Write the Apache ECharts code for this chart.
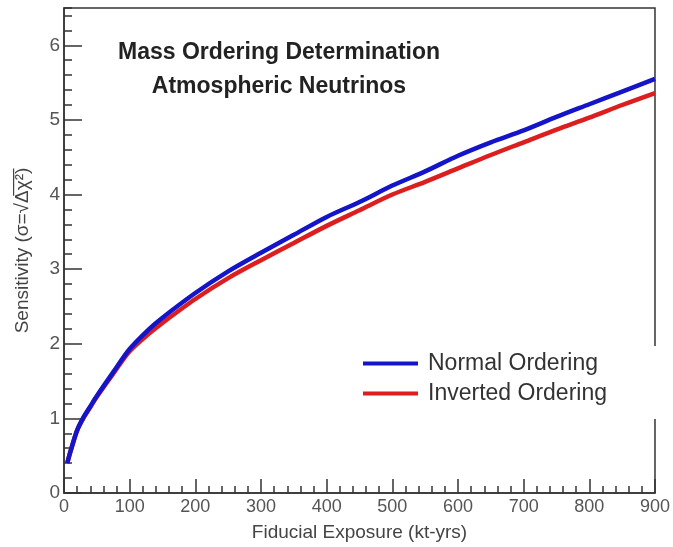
<!DOCTYPE html>
<html>
<head>
<meta charset="utf-8">
<script src="https://cdn.jsdelivr.net/npm/echarts@6/dist/echarts.min.js"></script>
<style>
  html, body { margin: 0; padding: 0; background: #fff; }
  #chart { width: 673px; height: 547px; }
</style>
</head>
<body>
<div id="chart"></div>
<script>
// Fiducial exposure (kt-yrs) at which the sensitivity is sampled
const exposure = [5, 10, 20, 30, 40, 50, 75, 100, 130, 150, 200, 250, 300, 350, 400, 450, 500, 550, 600, 650, 700, 750, 800, 850, 900];
// Sensitivity sigma = sqrt(delta chi^2)
const normalOrdering   = [0.40, 0.56, 0.84, 1.02, 1.16, 1.30, 1.62, 1.93, 2.20, 2.35, 2.68, 2.97, 3.22, 3.46, 3.70, 3.90, 4.12, 4.31, 4.52, 4.70, 4.86, 5.04, 5.21, 5.38, 5.55];
const invertedOrdering = [0.40, 0.56, 0.84, 1.01, 1.15, 1.29, 1.60, 1.90, 2.14, 2.28, 2.60, 2.88, 3.12, 3.35, 3.58, 3.79, 4.00, 4.17, 4.35, 4.53, 4.70, 4.87, 5.03, 5.20, 5.36];
const seriesNames = ['Normal Ordering', 'Inverted Ordering'];
const titleLines = ['Mass Ordering Determination', 'Atmospheric Neutrinos'];

const pairs = (ys) => exposure.map((x, i) => [x, ys[i]]);

const FONT = 'Liberation Sans, Arial, sans-serif';
const INK = '#333';

const chart = echarts.init(document.getElementById('chart'), null, { renderer: 'canvas' });

chart.setOption({
  backgroundColor: '#fff',
  animation: false,
  title: {
    text: titleLines.join('\n'),
    left: 274,
    top: 31,
    textAlign: 'center',
    textStyle: {
      fontFamily: FONT,
      fontWeight: 'bold',
      fontSize: 23,
      lineHeight: 34,
      color: '#222'
    }
  },
  grid: {
    left: 64, right: 17, top: 8, bottom: 54,
    show: true,
    borderColor: INK,
    borderWidth: 1.5,
    backgroundColor: 'transparent'
  },
  legend: {
    data: seriesNames,
    orient: 'vertical',
    left: 348,
    top: 346,
    padding: [6, 70, 14, 15],
    itemWidth: 55,
    itemHeight: 4,
    itemGap: 7,
    icon: 'rect',
    backgroundColor: '#fff',
    textStyle: {
      fontFamily: FONT,
      fontSize: 23,
      lineHeight: 22,
      color: '#333',
      padding: [0, 0, 0, 5]
    }
  },
  xAxis: {
    type: 'value',
    min: 0,
    max: 900,
    interval: 100,
    name: 'Fiducial Exposure (kt-yrs)',
    nameLocation: 'middle',
    nameGap: 30,
    nameTextStyle: { fontFamily: FONT, fontSize: 19, color: '#444' },
    axisLine: { show: true, onZero: false, lineStyle: { color: INK, width: 1.5 } },
    axisTick: { show: true, inside: true, length: 14, lineStyle: { color: INK, width: 1.5 } },
    minorTick: { show: true, splitNumber: 5, length: 7, lineStyle: { color: INK, width: 1.5 } },
    axisLabel: { fontFamily: FONT, fontSize: 18, color: '#555', margin: 5 },
    splitLine: { show: false },
    minorSplitLine: { show: false }
  },
  yAxis: [
    {
      type: 'value',
      min: 0,
      max: 6.5,
      interval: 1,
      position: 'left',
      name: 'Sensitivity (σ=√Δ̅χ̅²̅)',
      nameLocation: 'middle',
      nameGap: 32,
      nameTextStyle: { fontFamily: FONT, fontSize: 19, color: '#444' },
      axisLine: { show: true, onZero: false, lineStyle: { color: INK, width: 1.5 } },
      axisTick: { show: true, inside: true, length: 18, lineStyle: { color: INK, width: 1.5 } },
      axisLabel: { fontFamily: FONT, fontSize: 19, color: '#555', margin: 4, showMaxLabel: false },
      splitLine: { show: false }
    },
    {
      // minor ticks every 0.2
      type: 'value',
      min: 0,
      max: 6.5,
      interval: 0.2,
      position: 'left',
      offset: 0,
      axisLine: { show: false },
      axisTick: { show: true, inside: true, length: 8, lineStyle: { color: INK, width: 1.5 } },
      axisLabel: { show: false },
      splitLine: { show: false }
    }
  ],
  series: [
    {
      name: seriesNames[1],
      type: 'line',
      yAxisIndex: 0,
      data: pairs(invertedOrdering),
      smooth: 0.3,
      showSymbol: false,
      lineStyle: { color: '#dc1e1e', width: 4.5 },
      itemStyle: { color: '#dc1e1e' }
    },
    {
      name: seriesNames[0],
      type: 'line',
      yAxisIndex: 0,
      data: pairs(normalOrdering),
      smooth: 0.3,
      showSymbol: false,
      lineStyle: { color: '#1414c8', width: 4.5 },
      itemStyle: { color: '#1414c8' }
    }
  ]
});
</script>
</body>
</html>
